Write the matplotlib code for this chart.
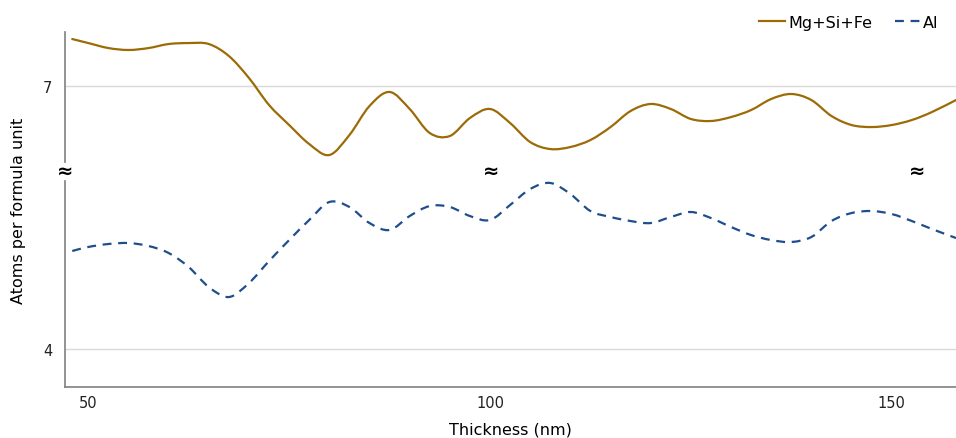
import matplotlib
matplotlib.use("Agg")
import matplotlib.pyplot as plt
from matplotlib.path import Path
from matplotlib.patches import PathPatch
from matplotlib.lines import Line2D

# thickness (nm), every 2.5 nm
thickness = [48, 50, 52.5, 55, 57.5, 60, 62.5, 65, 67.5, 70, 72.5, 75, 77.5, 80,
             82.5, 85, 87.5, 90, 92.5, 95, 97.5, 100, 102.5, 105, 107.5, 110,
             112.5, 115, 117.5, 120, 122.5, 125, 127.5, 130, 132.5, 135, 137.5,
             140, 142.5, 145, 147.5, 150, 152.5, 155, 158]

mg_si_fe = [7.536, 7.490, 7.433, 7.411, 7.433, 7.479, 7.490, 7.479, 7.342, 7.091,
            6.783, 6.555, 6.338, 6.213, 6.441, 6.772, 6.932, 6.738, 6.464, 6.430,
            6.635, 6.738, 6.578, 6.361, 6.281, 6.304, 6.384, 6.532, 6.715, 6.795,
            6.738, 6.624, 6.601, 6.646, 6.726, 6.852, 6.909, 6.840, 6.658, 6.555,
            6.532, 6.555, 6.612, 6.703, 6.840]

al = [5.118, 5.164, 5.198, 5.209, 5.175, 5.095, 4.935, 4.707, 4.593, 4.753,
      5.004, 5.243, 5.472, 5.677, 5.620, 5.437, 5.358, 5.517, 5.631, 5.620,
      5.517, 5.472, 5.643, 5.825, 5.894, 5.768, 5.574, 5.506, 5.460, 5.437,
      5.506, 5.563, 5.494, 5.392, 5.300, 5.243, 5.221, 5.278, 5.460, 5.551,
      5.574, 5.540, 5.460, 5.369, 5.266]

x_ticks = [50, 100, 150]
y_ticks = [4, 7]
break_x = [100.2, 153.2]

gold = "#9C6B06"
navy = "#1F4E8C"


def smooth_path(xs, ys):
    # excel-style smoothed line: bezier segments through every data point
    pts = list(zip(xs, ys))
    verts = [pts[0]]
    codes = [Path.MOVETO]
    n = len(pts)
    for i in range(n - 1):
        p0 = pts[max(i - 1, 0)]
        p1 = pts[i]
        p2 = pts[i + 1]
        p3 = pts[min(i + 2, n - 1)]
        c1 = (p1[0] + (p2[0] - p0[0]) / 6, p1[1] + (p2[1] - p0[1]) / 6)
        c2 = (p2[0] - (p3[0] - p1[0]) / 6, p2[1] - (p3[1] - p1[1]) / 6)
        verts += [c1, c2, p2]
        codes += [Path.CURVE4] * 3
    return Path(verts, codes)


fig = plt.figure(figsize=(9.56, 4.39), dpi=100)
ax = fig.add_axes([0.068, 0.1162, 0.932, 0.8086])

ax.add_patch(PathPatch(smooth_path(thickness, mg_si_fe), fill=False,
                       edgecolor=gold, lw=1.6, capstyle="round",
                       joinstyle="round"))
ax.add_patch(PathPatch(smooth_path(thickness, al), fill=False,
                       edgecolor=navy, lw=1.6, ls=(0, (4, 3))))

ax.set_xlim(47.1, 158)
ax.set_ylim(3.567, 7.616)
ax.set_xticks(x_ticks)
ax.set_yticks(y_ticks)
ax.tick_params(length=0, labelsize=10.5, colors="#222222")
ax.tick_params(axis="x", pad=6)
ax.tick_params(axis="y", pad=9)
ax.grid(axis="y", color="#d9d9d9", lw=1)
ax.set_axisbelow(True)

for s in ["top", "right", "left"]:
    ax.spines[s].set_visible(False)
ax.spines["bottom"].set_color("#808080")
ax.spines["bottom"].set_linewidth(1.2)

# left axis drawn in two pieces with a gap for the break
trans = ax.get_yaxis_transform()
ax.plot([0, 0], [3.567, 5.916], color="#808080", lw=1.2, transform=trans,
        clip_on=False)
ax.plot([0, 0], [6.133, 7.616], color="#808080", lw=1.2, transform=trans,
        clip_on=False)
ax.text(0, 6.04, "≈", transform=trans, ha="center", va="center",
        fontsize=14, fontweight="bold", clip_on=False)
for bx in break_x:
    ax.text(bx, 6.04, "≈", ha="center", va="center", fontsize=14,
            fontweight="bold")

ax.set_xlabel("Thickness (nm)", fontsize=11.5, labelpad=8)
ax.set_ylabel("Atoms per formula unit", fontsize=11.5, labelpad=12)

handles = [Line2D([], [], color=gold, lw=1.6),
           Line2D([], [], color=navy, lw=1.6, ls=(0, (4, 3)))]
fig.legend(handles, ["Mg+Si+Fe", "Al"], loc="center right",
           bbox_to_anchor=(0.997, 0.947), ncol=2, frameon=False,
           fontsize=11.5, handlelength=1.6, handletextpad=0.2,
           columnspacing=1.4)

fig.savefig("out.png", dpi=100)
